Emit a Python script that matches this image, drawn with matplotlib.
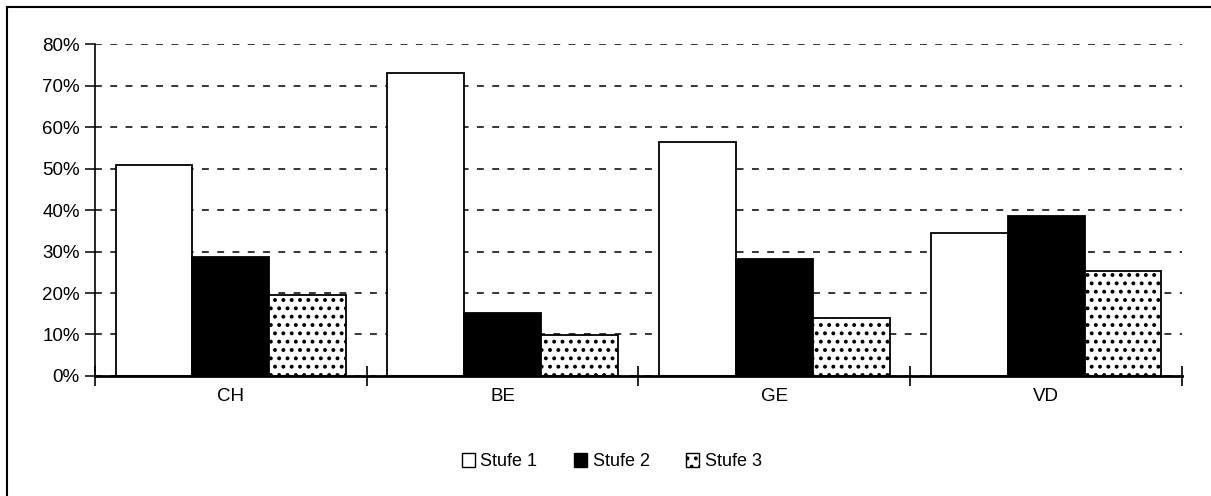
import matplotlib
matplotlib.use("Agg")
import matplotlib.pyplot as plt
from matplotlib.lines import Line2D
from matplotlib.patches import Patch
from matplotlib.ticker import FuncFormatter
import numpy as np

# ------------------------------------------------------
# Data (in %)
# ------------------------------------------------------
categories = ["CH", "BE", "GE", "VD"]
series_names = ["Stufe 1", "Stufe 2", "Stufe 3"]
stufe1 = [50.8, 73.0, 56.4, 34.4]
stufe2 = [28.7, 15.3, 28.2, 38.6]
stufe3 = [19.6, 9.8, 14.0, 25.4]
y_ticks = [0, 10, 20, 30, 40, 50, 60, 70, 80]

plt.rcParams["font.family"] = ["Liberation Sans", "DejaVu Sans"]
plt.rcParams["hatch.linewidth"] = 1.6

fig = plt.figure(figsize=(12.11, 4.96), dpi=100)
ax = fig.add_axes([0.0785, 0.242, 0.8975, 0.669])

x = np.arange(len(categories))
width = 0.283
styles = [
    dict(facecolor="white", hatch=None),
    dict(facecolor="black", hatch=None),
    dict(facecolor="white", hatch=".."),
]
for i, (vals, st) in enumerate(zip([stufe1, stufe2, stufe3], styles)):
    ax.bar(x + (i - 1) * width, vals, width, facecolor=st["facecolor"],
           hatch=st["hatch"], edgecolor="black", linewidth=1.3, zorder=3,
           label=series_names[i])

ax.set_xlim(-0.5, len(categories) - 0.5)
ax.set_ylim(0, 80)
ax.set_yticks(y_ticks)
ax.yaxis.set_major_formatter(FuncFormatter(lambda v, _: f"{v:.0f}%"))

# gridlines
ax.yaxis.grid(True, linestyle=(0, (4.5, 5.5)), color="black", linewidth=1.1, zorder=1)
ax.set_axisbelow(True)

for s in ["top", "right"]:
    ax.spines[s].set_visible(False)
ax.spines["left"].set_linewidth(1.2)
ax.spines["bottom"].set_linewidth(2.0)
ax.spines["bottom"].set_zorder(4)

ax.set_xticks(x)
ax.set_xticklabels(categories)
ax.set_xticks(np.arange(-0.5, len(categories)), minor=True)
ax.tick_params(axis="x", which="major", length=0, pad=9, labelsize=13.5)
ax.tick_params(axis="x", which="minor", direction="inout", length=14, width=1.2)
ax.tick_params(axis="y", direction="out", length=7, width=1.1, pad=4, labelsize=13.5)

# legend
handles = [
    Patch(facecolor="white", edgecolor="black", linewidth=1.0),
    Patch(facecolor="black", edgecolor="black", linewidth=1.0),
    Patch(facecolor="white", edgecolor="black", hatch="..", linewidth=1.0),
]
fig.legend(handles, series_names, loc="center", bbox_to_anchor=(0.505, 0.069),
           ncol=3, frameon=False, fontsize=13, handlelength=0.75, handleheight=0.75,
           handletextpad=0.3, columnspacing=2.0)

# frame lines of the original figure (top and left only)
fig.add_artist(Line2D([0.006, 1.0], [0.986, 0.986], color="black", linewidth=1.5,
                      transform=fig.transFigure))
fig.add_artist(Line2D([0.006, 0.006], [0.0, 0.986], color="black", linewidth=1.5,
                      transform=fig.transFigure))

fig.savefig("out.png", dpi=100)
